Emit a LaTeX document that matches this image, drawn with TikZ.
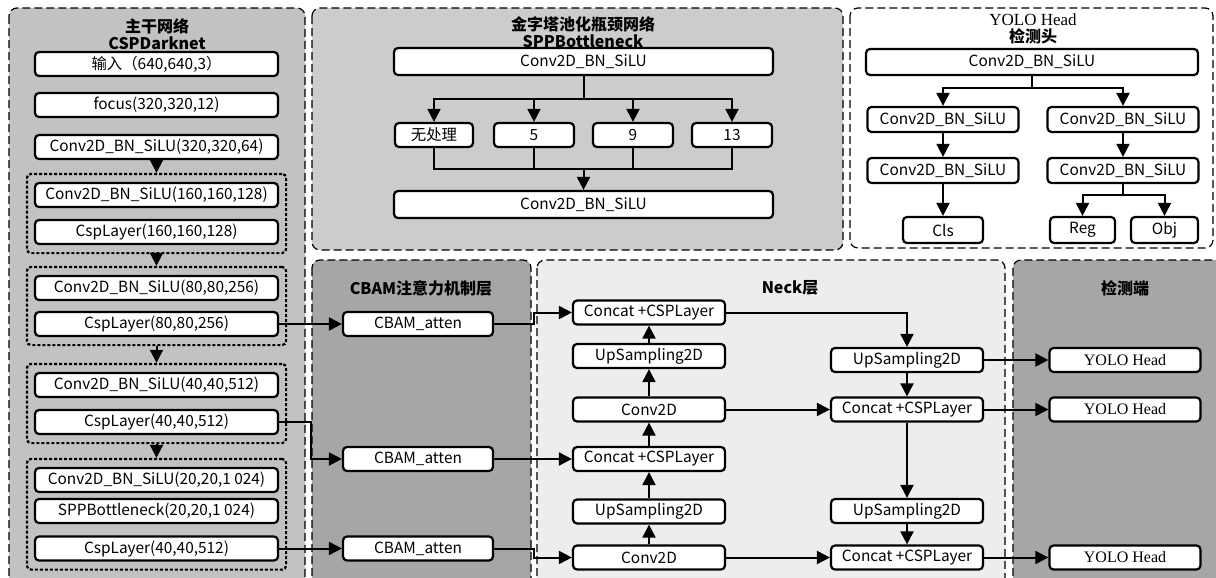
\documentclass[tikz,border=0pt]{standalone}
\usepackage{fontspec}
\setmainfont{Noto Sans CJK SC}
\newfontfamily\headserif{Liberation Serif}
\usetikzlibrary{arrows.meta,fit}
\definecolor{backbonegray}{HTML}{C2C2C2}
\definecolor{sppgray}{HTML}{CCCCCC}
\definecolor{darkgray}{HTML}{A6A6A6}
\definecolor{neckgray}{HTML}{EDEDED}

\begin{document}
\begin{tikzpicture}[x=0.5pt, y=-0.5pt,
    panel/.style={draw, dash pattern=on 4pt off 2pt, line width=0.6pt, rounded corners=4pt},
    grp/.style={draw, dash pattern=on 1.5pt off 1pt, line width=1.1pt, rounded corners=2pt, inner xsep=3.5pt, inner ysep=4pt},
    box/.style={draw, line width=1.1pt, rounded corners=2pt, fill=white, inner sep=0pt, minimum height=12pt, font=\fontsize{7.7}{9}\selectfont},
    bb/.style={box, minimum width=121.5pt},
    wide/.style={box, minimum width=189.5pt, minimum height=13.5pt},
    small/.style={box, minimum width=40pt},
    mid/.style={box, minimum width=75.5pt, minimum height=12.5pt},
    nk/.style={box, minimum width=76pt},
    yolo/.style={box, minimum width=75.5pt, font=\headserif\fontsize{8}{9}\selectfont},
    ttl/.style={font=\bfseries\fontsize{8}{8.5}\selectfont, align=center},
    arr/.style={-{Triangle[length=6.5pt,width=6.5pt]}, line width=1pt},
    line/.style={line width=1pt}
]
\useasboundingbox (0,0) rectangle (1216,578);

% panels
\draw[panel, fill=backbonegray] (9,8) rectangle (305,590);
\draw[panel, fill=sppgray] (312,8) rectangle (843,250);
\draw[panel, fill=white] (850,8) rectangle (1213,248);
\draw[panel, fill=darkgray] (312,260) rectangle (531,590);
\draw[panel, fill=neckgray] (537,260) rectangle (1005,590);
\draw[panel, fill=darkgray] (1013,260) rectangle (1230,590);

% backbone
\node[ttl] (bbtitle) at (157,34) {主干网络\\CSPDarknet};
\node[bb] (inp) at (156.5,64) {输入（640,640,3）};
\node[bb] (foc) at (156.5,105) {focus(320,320,12)};
\node[bb] (cbs1) at (156.5,147) {Conv2D\_BN\_SiLU(320,320,64)};
\node[bb] (cbs2) at (156.5,195) {Conv2D\_BN\_SiLU(160,160,128)};
\node[bb] (csp1) at (156.5,232) {CspLayer(160,160,128)};
\node[bb] (cbs3) at (156.5,288) {Conv2D\_BN\_SiLU(80,80,256)};
\node[bb] (csp2) at (156.5,324) {CspLayer(80,80,256)};
\node[bb] (cbs4) at (156.5,385) {Conv2D\_BN\_SiLU(40,40,512)};
\node[bb] (csp3) at (156.5,422) {CspLayer(40,40,512)};
\node[bb] (cbs5) at (156.5,480) {Conv2D\_BN\_SiLU(20,20,1 024)};
\node[bb] (sppb) at (156.5,511) {SPPBottleneck(20,20,1 024)};
\node[bb] (csp4) at (156.5,548.5) {CspLayer(40,40,512)};

\node[grp, fit=(cbs2)(csp1)] (g1) {};
\node[grp, fit=(cbs3)(csp2)] (g2) {};
\node[grp, fit=(cbs4)(csp3)] (g3) {};
\node[grp, fit=(cbs5)(csp4)] (g4) {};

\draw[arr] (cbs1) -- (g1);
\draw[arr] (g1) -- (g2);
\draw[arr] (g2) -- (g3);
\draw[arr] (g3) -- (g4);

% SPP bottleneck
\node[ttl] (spptitle) at (583,32) {金字塔池化瓶颈网络\\SPPBottleneck};
\node[wide] (spp1) at (583.5,61.5) {Conv2D\_BN\_SiLU};
\node[small, minimum width=39pt] (p0) at (434,135) {无处理};
\node[small] (p5) at (534,135) {5};
\node[small] (p9) at (633,135) {9};
\node[small] (p13) at (732,135) {13};
\node[wide] (spp2) at (583.5,204.5) {Conv2D\_BN\_SiLU};
\coordinate (sppsplit) at (583.5,99);
\coordinate (sppmerge) at (583.5,169);

\draw[line] (spp1) -- (sppsplit);
\foreach \p in {p0,p5,p9,p13}{
  \draw[arr] (sppsplit) -| (\p);
  \draw[line] (\p) |- (sppmerge);
}
\draw[arr] (sppmerge) -- (spp2);

% YOLO head
\node[font=\headserif\fontsize{8.5}{9}\selectfont] (yhtitle) at (1033,20) {YOLO Head};
\node[ttl] (yhsub) at (1033,36) {检测头};
\node[box, minimum width=166pt, minimum height=13pt] (yh0) at (1032,62) {Conv2D\_BN\_SiLU};
\node[mid] (yl1) at (943,119.5) {Conv2D\_BN\_SiLU};
\node[mid] (yr1) at (1123,119.5) {Conv2D\_BN\_SiLU};
\node[mid] (yl2) at (943,170.5) {Conv2D\_BN\_SiLU};
\node[mid] (yr2) at (1123,170.5) {Conv2D\_BN\_SiLU};
\node[box, minimum width=40pt, minimum height=13pt] (cls) at (943,230) {Cls};
\node[box, minimum width=32.5pt, minimum height=13pt] (reg) at (1082.5,230) {Reg};
\node[box, minimum width=33.5pt, minimum height=13pt] (obj) at (1164.5,230) {Obj};
\coordinate (ysplit) at (1032,88);
\coordinate (ysplit2) at (1123,195);

\draw[line] (yh0) -- (ysplit);
\draw[arr] (ysplit) -| (yl1);
\draw[arr] (ysplit) -| (yr1);
\draw[arr] (yl1) -- (yl2);
\draw[arr] (yr1) -- (yr2);
\draw[arr] (yl2) -- (cls);
\draw[line] (yr2) -- (ysplit2);
\draw[arr] (ysplit2) -| (reg);
\draw[arr] (ysplit2) -| (obj);

% CBAM
\node[ttl] (cbamtitle) at (421,288) {CBAM注意力机制层};
\node[nk, minimum width=75pt] (cbam1) at (418,324) {CBAM\_atten};
\node[nk, minimum width=75pt] (cbam2) at (418,459) {CBAM\_atten};
\node[nk, minimum width=75pt] (cbam3) at (418,548.5) {CBAM\_atten};

\draw[arr] (csp2) -- (cbam1);
\draw[arr] (csp3.east) -- ++(32,0) |- (cbam2.west);
\draw[arr] (csp4) -- (cbam3);

% neck
\node[ttl] (necktitle) at (790,288) {Neck层};
\node[nk] (concatA) at (649,312.5) {Concat +CSPLayer};
\node[nk] (upA) at (649,356) {UpSampling2D};
\node[nk] (convA) at (649,409.5) {Conv2D};
\node[nk] (concatB) at (649,459) {Concat +CSPLayer};
\node[nk] (upB) at (649,511.5) {UpSampling2D};
\node[nk] (convB) at (649,557.5) {Conv2D};
\node[nk] (upC) at (907,360) {UpSampling2D};
\node[nk] (concatC) at (907,409.5) {Concat +CSPLayer};
\node[nk] (upD) at (907,511) {UpSampling2D};
\node[nk] (concatD) at (907,557.5) {Concat +CSPLayer};

\draw[arr] (cbam1.east) -- ++(40,0) |- (concatA.west);
\draw[arr] (cbam2) -- (concatB);
\draw[arr] (cbam3.east) -- ++(40,0) |- (convB.west);
\foreach \a/\b in {convB/upB, upB/concatB, concatB/convA, convA/upA, upA/concatA}
  \draw[arr] (\a) -- (\b);
\draw[arr] (concatA) -| (upC);
\draw[arr] (upC) -- (concatC);
\draw[arr] (convA) -- (concatC);
\draw[arr] (concatC) -- (upD);
\draw[arr] (upD) -- (concatD);
\draw[arr] (convB) -- (concatD);

% detection
\node[ttl] (dettitle) at (1125,288) {检测端};
\node[yolo] (yolo1) at (1125,360) {YOLO Head};
\node[yolo] (yolo2) at (1125,409.5) {YOLO Head};
\node[yolo] (yolo3) at (1125,557.5) {YOLO Head};

\draw[arr] (upC) -- (yolo1);
\draw[arr] (concatC) -- (yolo2);
\draw[arr] (concatD) -- (yolo3);
\end{tikzpicture}
\end{document}
